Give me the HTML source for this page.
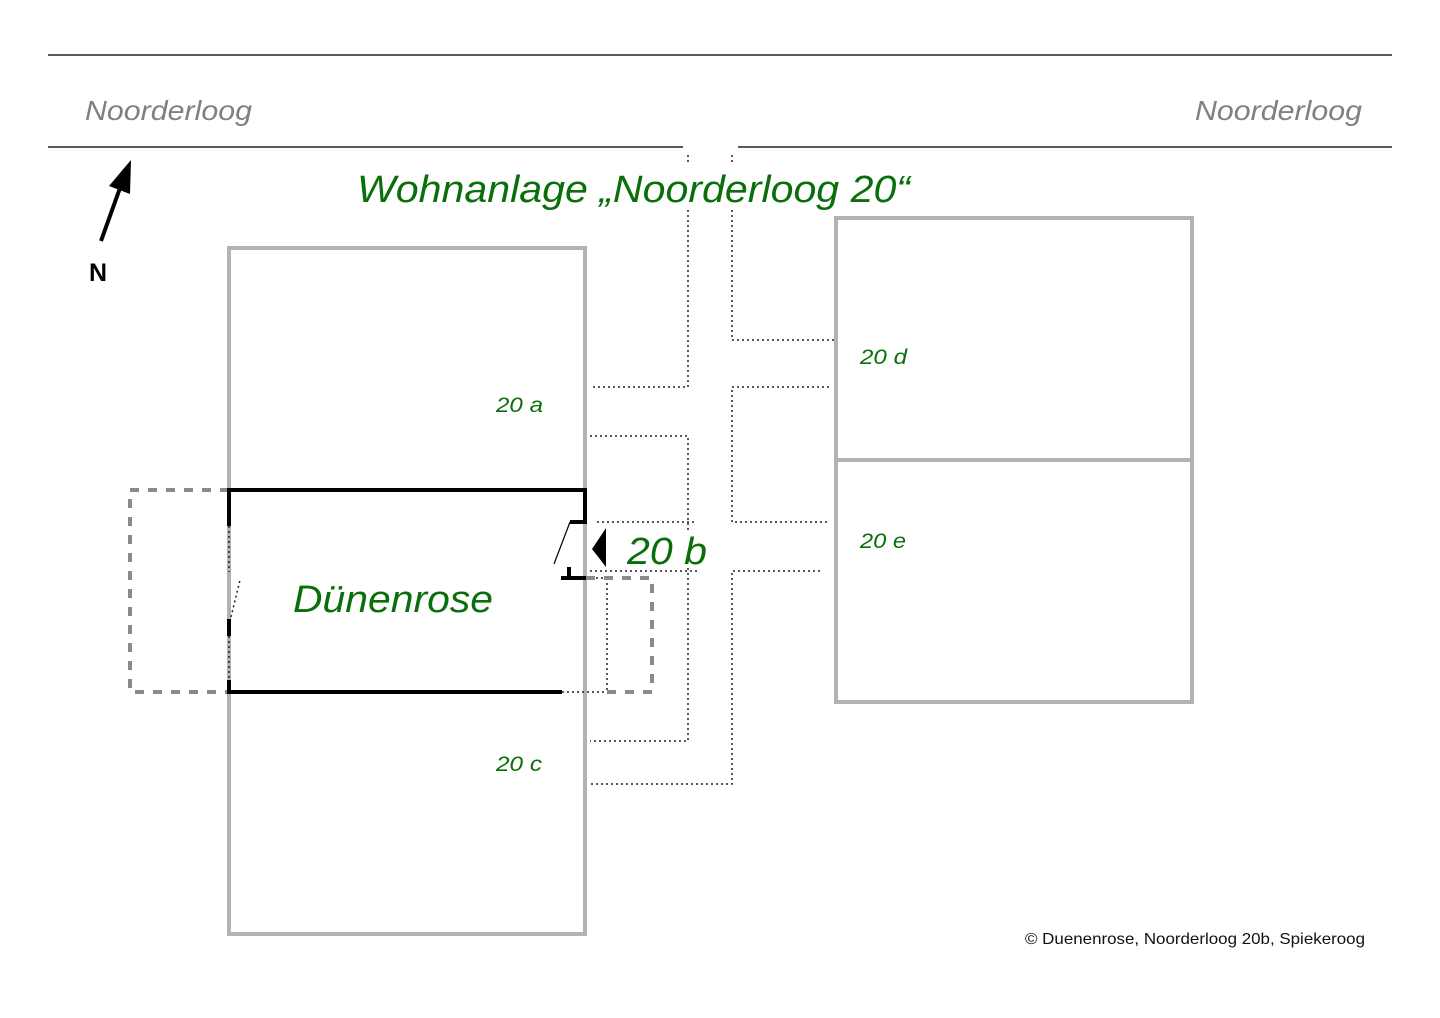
<!DOCTYPE html>
<html><head><meta charset="utf-8"><style>
html,body{margin:0;padding:0;background:#fff;}
svg{display:block;}
text{font-family:"Liberation Sans",sans-serif;}
</style></head><body>
<svg width="1440" height="1018" viewBox="0 0 1440 1018" xmlns="http://www.w3.org/2000/svg">
<rect width="1440" height="1018" fill="#fff"/>
<!-- street lines -->
<g stroke="#222" stroke-width="1.5">
<line x1="48" y1="55" x2="1392" y2="55"/>
<line x1="48" y1="147" x2="683" y2="147"/>
<line x1="738" y1="147" x2="1392" y2="147"/>
</g>
<text x="85" y="120" font-size="28" font-style="italic" fill="#808080" textLength="167" lengthAdjust="spacingAndGlyphs">Noorderloog</text>
<text x="1195" y="120" font-size="28" font-style="italic" fill="#808080" textLength="167" lengthAdjust="spacingAndGlyphs">Noorderloog</text>
<!-- north arrow -->
<line x1="101" y1="241" x2="120" y2="188" stroke="#000" stroke-width="4"/>
<polygon points="131,160 109,186 130,194" fill="#000"/>
<text x="89" y="281" font-size="25" font-weight="bold" fill="#000">N</text>
<!-- buildings -->
<g fill="none" stroke="#b3b3b3" stroke-width="4">
<rect x="229" y="248" width="356" height="686"/>
<rect x="836" y="218" width="356" height="484"/>
<line x1="836" y1="460" x2="1192" y2="460"/>
</g>
<!-- dotted paths -->
<g fill="none" stroke="#222" stroke-width="1.5" stroke-dasharray="2,3">
<polyline points="688,155 688,387 590,387"/>
<polyline points="590,436 688,436 688,741 590,741"/>
<polyline points="732,155 732,340 836,340"/>
<polyline points="829,387 732,387 732,522 829,522"/>
<polyline points="820,571 732,571 732,784 590,784"/>
<line x1="597" y1="522" x2="697" y2="522"/>
<line x1="590" y1="571" x2="697" y2="571"/>
<line x1="586" y1="578" x2="607" y2="578"/>
<line x1="607" y1="578" x2="607" y2="692"/>
<line x1="562" y1="692" x2="607" y2="692"/>
<line x1="229" y1="526" x2="229" y2="572"/>
<line x1="229" y1="636" x2="229" y2="680"/>
<line x1="231" y1="617" x2="240" y2="580"/>
</g>
<rect x="640" y="163" width="130" height="45" fill="#fff"/>
<text x="357" y="202" font-size="38" font-style="italic" fill="#0a6e0a" textLength="553" lengthAdjust="spacingAndGlyphs">Wohnanlage „Noorderloog 20“</text>
<!-- gray dashed extensions -->
<g fill="none" stroke="#8a8a8a" stroke-width="4" stroke-dasharray="9,9">
<polyline points="229,490 130,490 130,692 229,692"/>
<polyline points="586,578 652,578 652,692 600,692"/>
</g>
<!-- Dünenrose walls -->
<g fill="none" stroke="#000" stroke-width="4">
<polyline points="229,526 229,490 585,490 585,522 570,522"/>
<polyline points="229,680 229,692 562,692"/>
<line x1="229" y1="619" x2="229" y2="636"/>
<line x1="561" y1="578" x2="586" y2="578"/>
<line x1="569" y1="567" x2="569" y2="578"/>
</g>
<line x1="570" y1="522" x2="554" y2="564" stroke="#000" stroke-width="1.2"/>
<polygon points="592,549 606,528 606,567" fill="#000"/>
<rect x="622" y="530" width="90" height="38" fill="#fff"/>
<text x="627" y="564" font-size="38" font-style="italic" fill="#0a6e0a" textLength="80" lengthAdjust="spacingAndGlyphs">20 b</text>
<text x="293" y="612" font-size="38" font-style="italic" fill="#0a6e0a" textLength="200" lengthAdjust="spacingAndGlyphs">Dünenrose</text>
<g font-size="21" font-style="italic" fill="#0a6e0a">
<text x="496" y="412" textLength="47" lengthAdjust="spacingAndGlyphs">20 a</text>
<text x="496" y="771" textLength="46" lengthAdjust="spacingAndGlyphs">20 c</text>
<text x="860" y="364" textLength="47" lengthAdjust="spacingAndGlyphs">20 d</text>
<text x="860" y="548" textLength="46" lengthAdjust="spacingAndGlyphs">20 e</text>
</g>
<text x="1025" y="944" font-size="16" fill="#111" textLength="340" lengthAdjust="spacingAndGlyphs">© Duenenrose, Noorderloog 20b, Spiekeroog</text>
</svg>
</body></html>
